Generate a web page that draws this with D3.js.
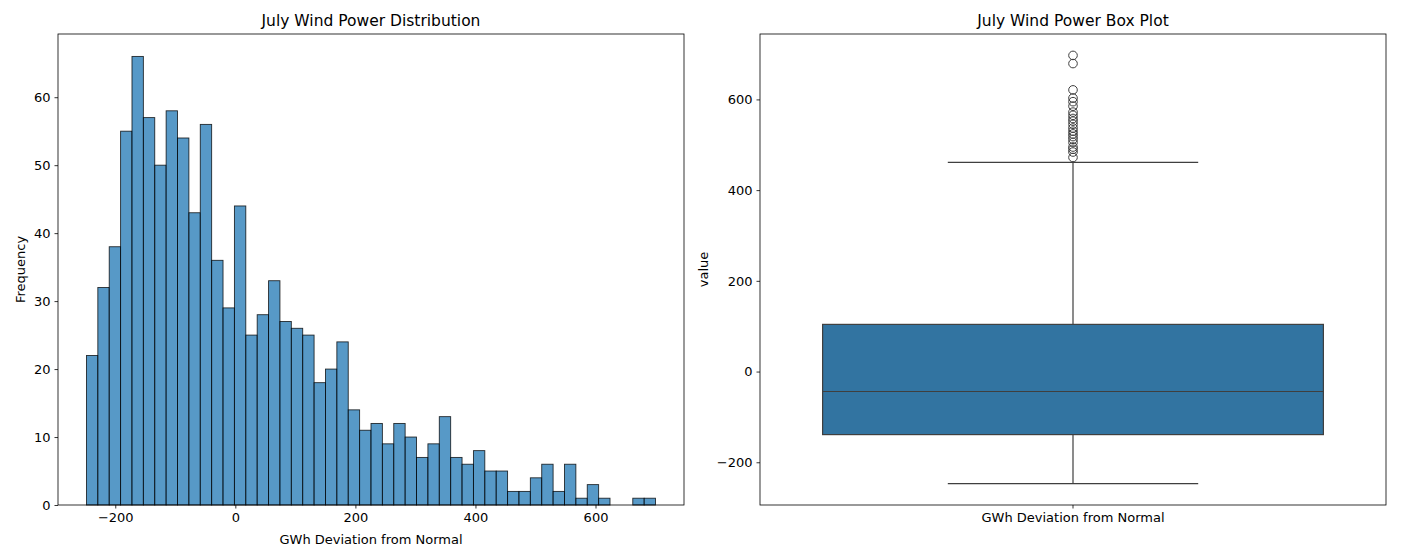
<!DOCTYPE html>
<html>
<head>
<meta charset="utf-8">
<script src="https://cdn.jsdelivr.net/npm/d3@7"></script>
<style>
  body { margin: 0; background: #fff; }
  svg { font-family: "DejaVu Sans", sans-serif; }
  .axis path, .axis line { stroke: #000; stroke-width: 0.8; }
  .axis text { font-family: "DejaVu Sans", sans-serif; font-size: 13px; fill: #000; }
</style>
</head>
<body>
<script>
const width = 1401;
const height = 560;

// Histogram: counts per bin, 50 equal bins
const binStart = -248;
const binWidth = 18.96;
const binCounts = [22, 32, 38, 55, 66, 57, 50, 58, 54, 43, 56, 36, 29, 44, 25, 28, 33, 27, 26, 25,
  18, 20, 24, 14, 11, 12, 9, 12, 10, 7, 9, 13, 7, 6, 8, 5, 5, 2, 2, 4,
  6, 2, 6, 1, 3, 1, 0, 0, 1, 1];
const histXTicks = [-200, 0, 200, 400, 600];
const histYTicks = [0, 10, 20, 30, 40, 50, 60];

// Box plot summary
const boxCategory = ["GWh Deviation from Normal"];
const boxStats = { whiskerLow: -247, q1: -139, median: -44, q3: 104, whiskerHigh: 461 };
const outliers = [697, 679, 621, 603, 595, 585, 572, 565, 558, 552, 545, 537, 530, 524, 518, 512, 505, 495, 490, 484, 472];
const boxYTicks = [-200, 0, 200, 400, 600];

const svg = d3.select("body")
  .append("svg")
  .attr("width", width)
  .attr("height", height);

const minus = d => d < 0 ? "\u2212" + Math.abs(d) : d;

// ---------- Left: histogram ----------
const left = { x0: 58, x1: 684, y0: 34, y1: 505 };

const bins = binCounts.map((c, i) => ({
  x0: binStart + i * binWidth,
  x1: binStart + (i + 1) * binWidth,
  count: c
}));
const xMin = bins[0].x0, xMax = bins[bins.length - 1].x1;
const xPad = (xMax - xMin) * 0.05;

const xH = d3.scaleLinear().domain([xMin - xPad, xMax + xPad]).range([left.x0, left.x1]);
const yH = d3.scaleLinear().domain([0, d3.max(binCounts) * 1.05]).range([left.y1, left.y0]);

const gH = svg.append("g");

gH.selectAll("rect.bar")
  .data(bins.filter(d => d.count > 0))
  .enter()
  .append("rect")
  .attr("class", "bar")
  .attr("x", d => xH(d.x0))
  .attr("y", d => yH(d.count))
  .attr("width", d => xH(d.x1) - xH(d.x0))
  .attr("height", d => yH(0) - yH(d.count))
  .attr("fill", "rgba(31,119,180,0.75)")
  .attr("stroke", "rgba(0,0,0,0.8)")
  .attr("stroke-width", 0.9);

gH.append("g")
  .attr("class", "axis")
  .attr("transform", `translate(0,${left.y1})`)
  .call(d3.axisBottom(xH).tickValues(histXTicks).tickSize(3.5).tickPadding(4).tickFormat(minus))
  .call(g => g.select(".domain").remove());

gH.append("g")
  .attr("class", "axis")
  .attr("transform", `translate(${left.x0},0)`)
  .call(d3.axisLeft(yH).tickValues(histYTicks).tickSize(3.5).tickPadding(4))
  .call(g => g.select(".domain").remove());

gH.append("rect")
  .attr("x", left.x0).attr("y", left.y0)
  .attr("width", left.x1 - left.x0).attr("height", left.y1 - left.y0)
  .attr("fill", "none").attr("stroke", "#000").attr("stroke-width", 0.8);

gH.append("text")
  .attr("x", (left.x0 + left.x1) / 2).attr("y", 26)
  .attr("text-anchor", "middle").attr("font-size", 15.5)
  .text("July Wind Power Distribution");

gH.append("text")
  .attr("x", (left.x0 + left.x1) / 2).attr("y", 544)
  .attr("text-anchor", "middle").attr("font-size", 13)
  .text("GWh Deviation from Normal");

gH.append("text")
  .attr("transform", `translate(25,${(left.y0 + left.y1) / 2}) rotate(-90)`)
  .attr("text-anchor", "middle").attr("font-size", 13)
  .text("Frequency");

// ---------- Right: box plot ----------
const right = { x0: 760, x1: 1386, y0: 34, y1: 505 };

const allVals = [boxStats.whiskerLow, boxStats.whiskerHigh, ...outliers];
const vMin = d3.min(allVals), vMax = d3.max(allVals);
const vPad = (vMax - vMin) * 0.05;

const xB = d3.scaleBand().domain(boxCategory).range([right.x0, right.x1]).paddingInner(0).paddingOuter(0);
const yB = d3.scaleLinear().domain([vMin - vPad, vMax + vPad]).range([right.y1, right.y0]);

const gB = svg.append("g");
const lineCol = "#3f3f3f";
const lw = 1.2;

boxCategory.forEach(cat => {
  const cx = xB(cat) + xB.bandwidth() / 2;
  const bw = xB.bandwidth() * 0.8;
  const cap = bw / 2;

  // whiskers
  gB.append("line")
    .attr("x1", cx).attr("x2", cx)
    .attr("y1", yB(boxStats.q3)).attr("y2", yB(boxStats.whiskerHigh))
    .attr("stroke", lineCol).attr("stroke-width", lw);
  gB.append("line")
    .attr("x1", cx).attr("x2", cx)
    .attr("y1", yB(boxStats.q1)).attr("y2", yB(boxStats.whiskerLow))
    .attr("stroke", lineCol).attr("stroke-width", lw);
  [boxStats.whiskerHigh, boxStats.whiskerLow].forEach(v => {
    gB.append("line")
      .attr("x1", cx - cap / 2).attr("x2", cx + cap / 2)
      .attr("y1", yB(v)).attr("y2", yB(v))
      .attr("stroke", lineCol).attr("stroke-width", lw);
  });

  // box
  gB.append("rect")
    .attr("x", cx - bw / 2).attr("y", yB(boxStats.q3))
    .attr("width", bw).attr("height", yB(boxStats.q1) - yB(boxStats.q3))
    .attr("fill", "#3274a1").attr("stroke", lineCol).attr("stroke-width", lw);

  gB.append("line")
    .attr("x1", cx - bw / 2).attr("x2", cx + bw / 2)
    .attr("y1", yB(boxStats.median)).attr("y2", yB(boxStats.median))
    .attr("stroke", lineCol).attr("stroke-width", lw);

  // outliers
  gB.selectAll("circle.out")
    .data(outliers)
    .enter()
    .append("circle")
    .attr("class", "out")
    .attr("cx", cx)
    .attr("cy", d => yB(d))
    .attr("r", 4.3)
    .attr("fill", "none")
    .attr("stroke", lineCol)
    .attr("stroke-width", 1);
});

gB.append("g")
  .attr("class", "axis")
  .attr("transform", `translate(0,${right.y1})`)
  .call(d3.axisBottom(xB).tickSize(3.5).tickPadding(4))
  .call(g => g.select(".domain").remove());

gB.append("g")
  .attr("class", "axis")
  .attr("transform", `translate(${right.x0},0)`)
  .call(d3.axisLeft(yB).tickValues(boxYTicks).tickSize(3.5).tickPadding(4).tickFormat(minus))
  .call(g => g.select(".domain").remove());

gB.append("rect")
  .attr("x", right.x0).attr("y", right.y0)
  .attr("width", right.x1 - right.x0).attr("height", right.y1 - right.y0)
  .attr("fill", "none").attr("stroke", "#000").attr("stroke-width", 0.8);

gB.append("text")
  .attr("x", (right.x0 + right.x1) / 2).attr("y", 26)
  .attr("text-anchor", "middle").attr("font-size", 15.5)
  .text("July Wind Power Box Plot");

gB.append("text")
  .attr("transform", `translate(708,${(right.y0 + right.y1) / 2}) rotate(-90)`)
  .attr("text-anchor", "middle").attr("font-size", 13)
  .text("value");
</script>
</body>
</html>
